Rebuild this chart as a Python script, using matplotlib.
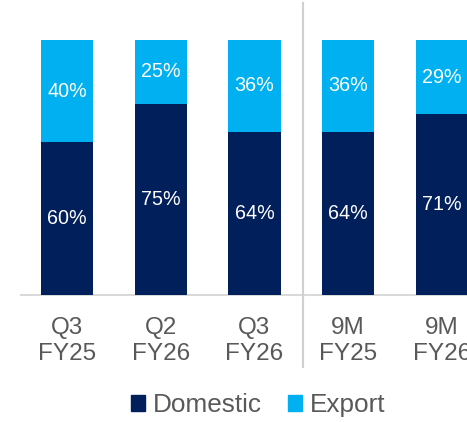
import numpy as np
import matplotlib.pyplot as plt
from matplotlib.patches import Patch

# 数据
periods = ['Q3\nFY25', 'Q2\nFY26', 'Q3\nFY26', '9M\nFY25', '9M\nFY26']
domestic = [60, 75, 64, 64, 71]
export = [40, 25, 36, 36, 29]

navy = '#001F5B'
sky = '#00B0F0'

plt.rcParams['font.family'] = ['Liberation Sans', 'DejaVu Sans']

fig = plt.figure(figsize=(4.67, 4.22), dpi=100)
fig.patch.set_facecolor('white')
ax = fig.add_axes([0, 0.301, 1, 0.604])

x = np.arange(len(periods))
w = 0.557
ax.bar(x, domestic, width=w, color=navy, zorder=2)
ax.bar(x, export, width=w, bottom=domestic, color=sky, zorder=2)

# 百分比标签
for i in range(len(periods)):
    ax.text(x[i], domestic[i] / 2, f'{domestic[i]}%', ha='center', va='center',
            color='white', fontsize=14.2)
    ax.text(x[i], domestic[i] + export[i] / 2, f'{export[i]}%', ha='center', va='center',
            color='white', fontsize=14.2)

ax.set_xlim(-0.718, 4.27)
ax.set_ylim(0, 100)

# 基线和分隔线
ax.plot([-0.493, 4.3], [0, 0], color='#D9D9D9', lw=1.5, zorder=1, clip_on=False)
ax.axvline(2.52, ymin=-0.282, ymax=1.145, color='#D0D0D0', lw=1.5, clip_on=False)

for s in ax.spines.values():
    s.set_visible(False)
ax.set_yticks([])
ax.set_xticks(x)
ax.set_xticklabels(periods, fontsize=17.5, color='#595959', linespacing=1.22)
ax.tick_params(axis='x', length=0, pad=16)

handles = [Patch(color=navy, label='Domestic'), Patch(color=sky, label='Export')]
fig.legend(handles=handles, loc='center', bbox_to_anchor=(258 / 467, 1 - 405 / 422),
           ncol=2, frameon=False, fontsize=18.8, labelcolor='#595959',
           handlelength=0.55, handleheight=0.55, handletextpad=0.3, columnspacing=1.0)

fig.savefig('out.png', dpi=100, facecolor=fig.get_facecolor())
